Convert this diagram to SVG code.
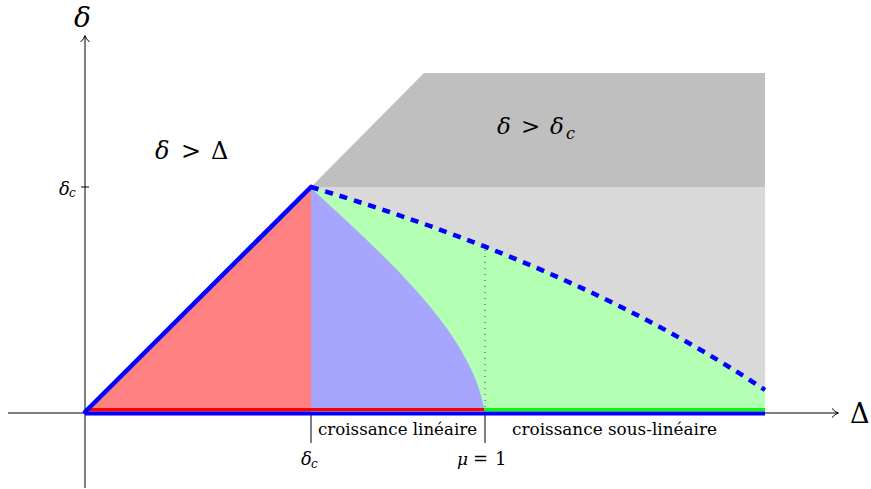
<svg xmlns="http://www.w3.org/2000/svg" width="871" height="489" viewBox="0 0 871 489">
<style>
.math{font-family:'DejaVu Serif',serif;font-style:italic;fill:#000}
.rm{font-family:'DejaVu Serif',serif;fill:#000}
.axis{stroke:#000;stroke-width:1;fill:none}
.tick{stroke:#000;stroke-width:1}
</style>
<defs>
<marker id="arr" markerWidth="12" markerHeight="12" refX="9" refY="6" orient="auto" markerUnits="userSpaceOnUse">
<path d="M3,1.5 Q6,5 9.5,6 Q6,7 3,10.5" fill="none" stroke="#000" stroke-width="1"/>
</marker>
</defs>
<g id="regions">
<rect x="311" y="187" width="454" height="225" fill="#d9d9d9"/>
<polygon points="311,187 424,73 765,73 765,187" fill="#bfbfbf"/>
<path d="M311,187 C420,220 600,280 765,390 L765,410 L311,410 Z" fill="#b3ffb3"/>
<path d="M311,188 C380,252 470,330 484,408 L311,408 Z" fill="#a6a6ff"/>
<polygon points="85,412 311,187 311,412" fill="#ff8080"/>
</g>
<g id="axes">
<line class="axis" x1="8" y1="413" x2="838" y2="413" marker-end="url(#arr)"/>
<line class="axis" x1="85" y1="488" x2="85" y2="36" marker-end="url(#arr)"/>
<line class="tick" x1="81" y1="187" x2="89" y2="187"/>
<line class="tick" x1="311" y1="412" x2="311" y2="443"/>
<line class="tick" x1="485" y1="412" x2="485" y2="443"/>
</g>
<g id="connectors">
<line x1="485" y1="244" x2="485" y2="408" stroke="#333" stroke-width="1" stroke-dasharray="1 5"/>
<line x1="85" y1="409.5" x2="484" y2="409.5" stroke="#ff0000" stroke-width="3"/>
<line x1="484" y1="409.5" x2="765" y2="409.5" stroke="#00ff00" stroke-width="3"/>
<line x1="85" y1="413.5" x2="765" y2="413.5" stroke="#0000ff" stroke-width="4"/>
<polyline points="85,412 311,187" fill="none" stroke="#0000ff" stroke-width="4.5" stroke-linecap="round"/>
<path d="M311,187 C420,220 600,280 765,390" fill="none" stroke="#0000ff" stroke-width="4.5" stroke-dasharray="8 7"/>
</g>
<g id="labels">
<text class="math" x="74" y="27" font-size="28">δ</text>
<text class="rm" x="850" y="423" font-size="27">Δ</text>
<text class="math" x="59" y="195" font-size="18">δ</text>
<text class="math" x="69" y="197" font-size="12">c</text>
<text class="math" x="301" y="465" font-size="18">δ</text>
<text class="math" x="311" y="468" font-size="12">c</text>
<text class="math" x="457" y="465" font-size="17">μ</text>
<text class="rm" x="473" y="465" font-size="18">=</text>
<text class="rm" x="495" y="465" font-size="18">1</text>
<text class="rm" x="318" y="435" font-size="16.5" textLength="159" lengthAdjust="spacingAndGlyphs">croissance linéaire</text>
<text class="rm" x="512" y="435" font-size="16.5" textLength="205" lengthAdjust="spacingAndGlyphs">croissance sous-linéaire</text>
<text class="math" x="155" y="159" font-size="24">δ</text>
<text class="rm" x="181" y="159" font-size="24">&gt;</text>
<text class="rm" x="211" y="159" font-size="24">Δ</text>
<text class="math" x="497" y="134" font-size="23">δ</text>
<text class="rm" x="521" y="134" font-size="23">&gt;</text>
<text class="math" x="550" y="134" font-size="23">δ</text>
<text class="math" x="566" y="139" font-size="16">c</text>
</g>
</svg>
